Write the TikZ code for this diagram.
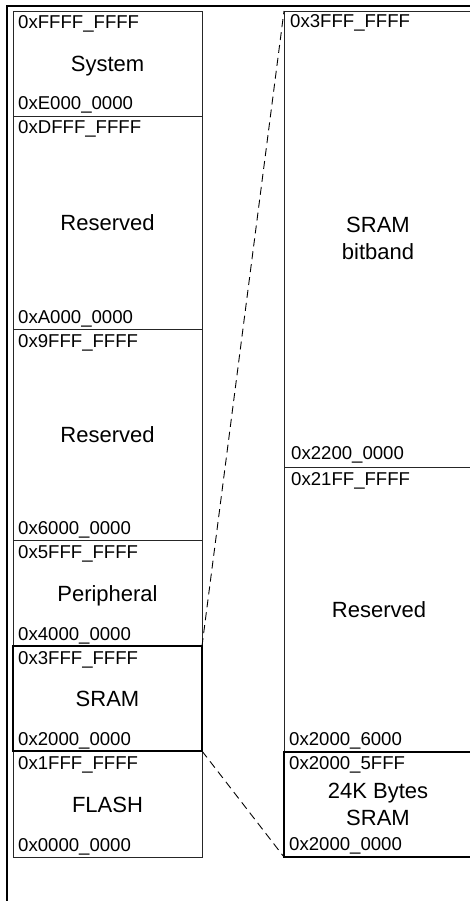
\documentclass[tikz,border=0pt]{standalone}
\usepackage{fontspec}
\setmainfont{Liberation Sans}
\usetikzlibrary{calc}
\begin{document}
\begin{tikzpicture}[x=1pt,y=-1pt,
  region/.style={draw=black!85, line width=0.8pt, inner sep=0pt, outer sep=0pt, anchor=north west},
  hiregion/.style={region, draw=black, line width=1.6pt},
  lcol/.style={minimum width=189pt},
  rcol/.style={minimum width=190pt},
  addr/.style={font=\fontsize{18.6}{20}\selectfont, inner sep=0pt, anchor=base west},
  title/.style={font=\fontsize{22}{24}\selectfont, inner sep=0pt, anchor=base},
  frame/.style={line width=2.4pt, draw=black},
  zoomlink/.style={draw=black, line width=0.9pt, dash pattern=on 8pt off 5pt}]
\useasboundingbox (0,0) rectangle (470,901);
\fill[white] (0,0) rectangle (470,901);
% frame
\coordinate (fa) at (7,905);
\coordinate (fb) at (7,6);
\coordinate (fc) at (476,6);
\draw[frame] (fa) -- (fb) -- (fc);
% left column
\node[region, lcol, minimum height=105pt] (sys) at (13,11) {};
\node[region, lcol, minimum height=213pt] (res1) at (13,116) {};
\node[region, lcol, minimum height=211pt] (res2) at (13,329) {};
\node[region, lcol, minimum height=106pt] (per) at (13,540) {};
\node[region, lcol, minimum height=106pt] (flash) at (13,751) {};
\node[hiregion, lcol, minimum height=105pt] (sram) at (13,646) {};
% right column
\node[region, rcol, minimum height=456pt] (bb) at (284,11) {};
\node[region, rcol, minimum height=285pt] (rres) at (284,467) {};
\node[hiregion, rcol, minimum height=105pt] (k24) at (284,752) {};
% links
\draw[zoomlink] (sram.north east) -- (bb.north west);
\draw[zoomlink] (sram.south east) -- (k24.south west);
% left labels
\node[addr] (a1) at ($(sys.north west)+(5,18)$) {0xFFFF\_FFFF};
\node[addr] (a2) at ($(sys.south west)+(5,-6)$) {0xE000\_0000};
\node[title] (t1) at ($(sys.center)+(0,8)$) {System};
\node[addr] (a3) at ($(res1.north west)+(5,18)$) {0xDFFF\_FFFF};
\node[addr] (a4) at ($(res1.south west)+(5,-6)$) {0xA000\_0000};
\node[title] (t2) at ($(res1.center)+(0,8)$) {Reserved};
\node[addr] (a5) at ($(res2.north west)+(5,18)$) {0x9FFF\_FFFF};
\node[addr] (a6) at ($(res2.south west)+(5,-6)$) {0x6000\_0000};
\node[title] (t3) at ($(res2.center)+(0,8)$) {Reserved};
\node[addr] (a7) at ($(per.north west)+(5,18)$) {0x5FFF\_FFFF};
\node[addr] (a8) at ($(per.south west)+(5,-6)$) {0x4000\_0000};
\node[title] (t4) at ($(per.center)+(0,8)$) {Peripheral};
\node[addr] (a9) at ($(sram.north west)+(5,18)$) {0x3FFF\_FFFF};
\node[addr] (a10) at ($(sram.south west)+(5,-6)$) {0x2000\_0000};
\node[title] (t5) at ($(sram.center)+(0,8)$) {SRAM};
\node[addr] (a11) at ($(flash.north west)+(5,18)$) {0x1FFF\_FFFF};
\node[addr] (a12) at ($(flash.south west)+(5,-6)$) {0x0000\_0000};
\node[title] (t6) at ($(flash.center)+(0,8)$) {FLASH};
% right labels
\node[addr] (b1) at ($(bb.north west)+(6,17)$) {0x3FFF\_FFFF};
\node[addr] (b2) at ($(bb.south west)+(7,-8)$) {0x2200\_0000};
\node[title] (u1) at (378,233) {SRAM};
\node[title] (u2) at (378,259) {bitband};
\node[addr] (b3) at ($(rres.north west)+(7,18)$) {0x21FF\_FFFF};
\node[addr] (b4) at ($(rres.south west)+(5,-7)$) {0x2000\_6000};
\node[title] (u3) at ($(rres.center)+(0,8)$) {Reserved};
\node[addr] (b5) at ($(k24.north west)+(5,17)$) {0x2000\_5FFF};
\node[addr] (b6) at ($(k24.south west)+(5,-7)$) {0x2000\_0000};
\node[title] (u4) at (378,798) {24K Bytes};
\node[title] (u5) at (378,825) {SRAM};
\end{tikzpicture}
\end{document}
